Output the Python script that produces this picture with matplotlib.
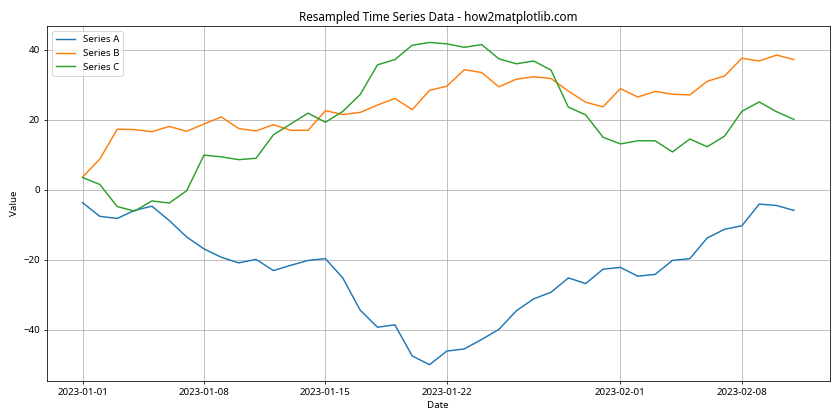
import matplotlib

matplotlib.use("Agg")
import matplotlib.pyplot as plt
import numpy as np
import pandas as pd

plt.rcParams["font.family"] = ["Noto Sans", "DejaVu Sans"]

# daily means (2023-01-01 .. 2023-02-11)
dates = pd.date_range("2023-01-01", periods=42, freq="D")

series_a = [
    -3.7, -7.6, -8.2, -5.9, -4.7, -8.8, -13.5, -16.9, -19.3, -20.9,
    -19.9, -23.1, -21.6, -20.2, -19.7, -25.2, -34.4, -39.3, -38.6, -47.5,
    -50.0, -46.1, -45.5, -42.8, -39.9, -34.6, -31.2, -29.3, -25.2, -26.8,
    -22.7, -22.2, -24.7, -24.2, -20.2, -19.7, -13.8, -11.3, -10.3, -4.1,
    -4.5, -5.9,
]
series_b = [
    3.6, 8.8, 17.3, 17.2, 16.6, 18.1, 16.7, 18.8, 20.8, 17.5,
    16.8, 18.6, 17.0, 17.0, 22.6, 21.5, 22.1, 24.2, 26.1, 22.9,
    28.4, 29.6, 34.3, 33.5, 29.4, 31.6, 32.3, 31.8, 28.2, 25.0,
    23.7, 28.9, 26.5, 28.1, 27.3, 27.1, 31.0, 32.5, 37.6, 36.8,
    38.5, 37.2,
]
series_c = [
    3.5, 1.5, -4.8, -6.1, -3.2, -3.8, -0.3, 9.9, 9.4, 8.6,
    9.0, 15.7, 18.8, 21.9, 19.3, 22.4, 27.2, 35.7, 37.2, 41.3,
    42.1, 41.7, 40.7, 41.5, 37.4, 36.0, 36.8, 34.2, 23.6, 21.4,
    15.0, 13.1, 14.0, 14.0, 10.8, 14.5, 12.3, 15.3, 22.4, 25.1,
    22.3, 20.1,
]

df = pd.DataFrame({"A": series_a, "B": series_b, "C": series_c}, index=dates)

fig, ax = plt.subplots(figsize=(12, 6), dpi=70)
ax.plot(df.index, df["A"], label="Series A")
ax.plot(df.index, df["B"], label="Series B")
ax.plot(df.index, df["C"], label="Series C")
ax.set_title("Resampled Time Series Data - how2matplotlib.com")
ax.set_xlabel("Date")
ax.set_ylabel("Value")
ax.legend(loc="upper left")
ax.grid(True)
fig.tight_layout()
fig.savefig("out.png", dpi=70)
